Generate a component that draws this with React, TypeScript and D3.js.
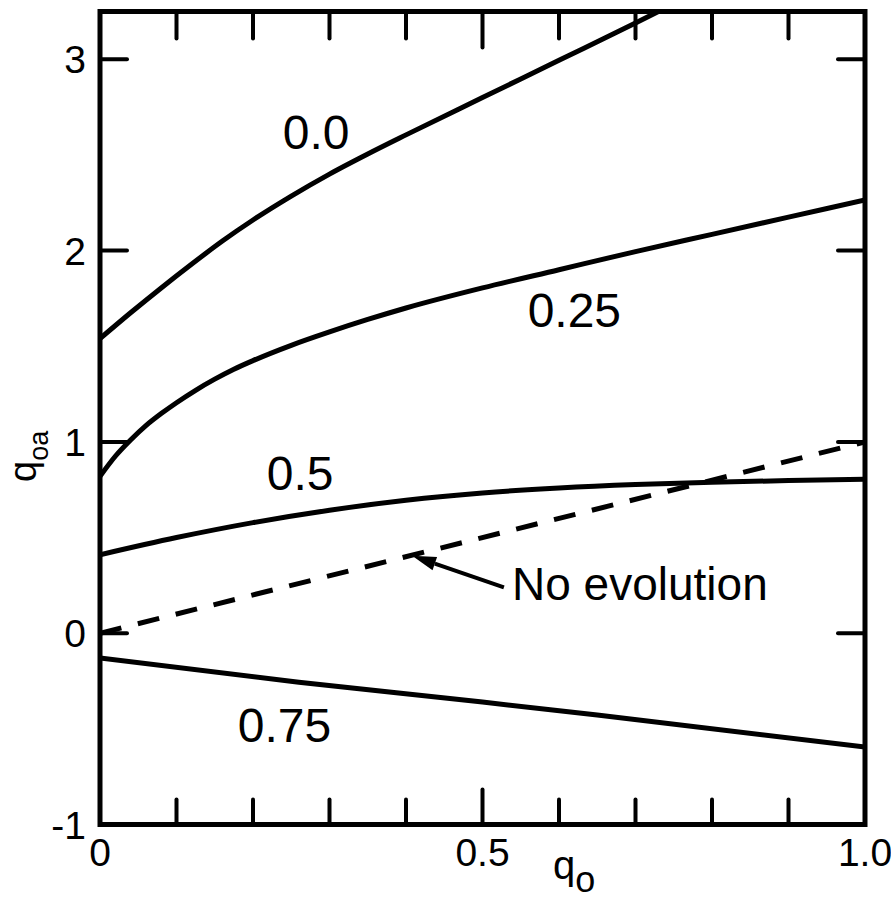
import React from "react";
import * as d3 from "d3";

const W = 891;
const H = 899;

// x-axis ticks
const xMinorTicks = [0.1, 0.2, 0.3, 0.4, 0.6, 0.7, 0.8, 0.9];
const xMajorTicks = [0.5];
const xTickLabels = [
  { v: 0, t: "0" },
  { v: 0.5, t: "0.5" },
  { v: 1.0, t: "1.0" },
];
const yTicks = [0, 1, 2, 3];
const yTickLabels = ["-1", "0", "1", "2", "3"];
const yTickValues = [-1, 0, 1, 2, 3];

// curves: label = parameter value
const c00_q0 = [0, 0.04, 0.08, 0.12, 0.16, 0.2, 0.25, 0.3, 0.35, 0.4, 0.5, 0.6, 0.7, 0.76];
const c00_qoa = [1.54, 1.675, 1.805, 1.93, 2.05, 2.16, 2.285, 2.4, 2.505, 2.605, 2.8, 2.995, 3.19, 3.31];

const c025_q0 = [0, 0.02, 0.04, 0.06, 0.08, 0.1, 0.125, 0.15, 0.175, 0.2, 0.25, 0.3, 0.35, 0.4, 0.5, 0.6, 0.7, 0.8, 0.9, 1.0];
const c025_qoa = [0.82, 0.925, 1.01, 1.085, 1.148, 1.205, 1.27, 1.328, 1.38, 1.425, 1.505, 1.575, 1.64, 1.7, 1.805, 1.9, 1.995, 2.085, 2.175, 2.265];

const c05_q0 = [0, 0.1, 0.2, 0.3, 0.4, 0.5, 0.6, 0.7, 0.8, 0.9, 1.0];
const c05_qoa = [0.41, 0.5, 0.578, 0.643, 0.695, 0.733, 0.759, 0.777, 0.789, 0.798, 0.805];

const c075_q0 = [0, 0.26, 0.5, 0.65, 1.0];
const c075_qoa = [-0.13, -0.256, -0.36, -0.428, -0.595];

const noEvo_q0 = [0, 1];
const noEvo_qoa = [0, 1];

const curveLabels = [
  { t: "0.0", q0: 0.239, qoa: 2.53 },
  { t: "0.25", q0: 0.559, qoa: 1.603 },
  { t: "0.5", q0: 0.218, qoa: 0.75 },
  { t: "0.75", q0: 0.18, qoa: -0.57 },
];

const FONT = "'Liberation Sans', Arial, sans-serif";

export default function App() {
  const left = 100,
    right = 865,
    top = 11.5,
    bottom = 824.5;
  const x = d3.scaleLinear().domain([0, 1]).range([left, right]);
  const y = d3.scaleLinear().domain([-1, 3.25]).range([bottom, top]);

  const mk = (xs: number[], ys: number[]) =>
    d3
      .line<number>()
      .x((_, i) => x(xs[i]))
      .y((d) => y(d))
      .curve(d3.curveMonotoneX)(ys) as string;

  const solid = [
    mk(c00_q0, c00_qoa),
    mk(c025_q0, c025_qoa),
    mk(c05_q0, c05_qoa),
    mk(c075_q0, c075_qoa),
  ];
  const dashed = d3
    .line<number>()
    .x((_, i) => x(noEvo_q0[i]))
    .y((d) => y(d))(noEvo_qoa) as string;

  // arrow
  const tipX = x(0.408),
    tipY = y(0.405);
  const tailX = x(0.528),
    tailY = y(0.24);
  const ang = Math.atan2(tailY - tipY, tailX - tipX);
  const aL = 24,
    aW = 7;
  const bx = tipX + aL * Math.cos(ang),
    by = tipY + aL * Math.sin(ang);
  const p1 = [bx - aW * Math.sin(ang), by + aW * Math.cos(ang)];
  const p2 = [bx + aW * Math.sin(ang), by - aW * Math.cos(ang)];

  return (
    <svg
      width={W}
      height={H}
      style={{ position: "absolute", left: 0, top: 0, background: "#fff" }}
      fontFamily={FONT}
    >
      <defs>
        <clipPath id="plot">
          <rect x={left} y={top} width={right - left} height={bottom - top} />
        </clipPath>
      </defs>
      <rect width={W} height={H} fill="#fff" />

      {/* curves */}
      <g clipPath="url(#plot)" fill="none" stroke="#000" strokeLinecap="round">
        {solid.map((d, i) => (
          <path key={i} d={d} strokeWidth={5} />
        ))}
        <path d={dashed} strokeWidth={5} strokeDasharray="22 17" strokeLinecap="butt" />
      </g>

      {/* ticks */}
      <g stroke="#000" strokeWidth={4} strokeLinecap="round">
        {xMinorTicks.map((v) => (
          <g key={"xm" + v}>
            <line x1={x(v)} x2={x(v)} y1={bottom} y2={bottom - 25} />
            <line x1={x(v)} x2={x(v)} y1={top} y2={top + 27} />
          </g>
        ))}
        {xMajorTicks.map((v) => (
          <g key={"xM" + v}>
            <line x1={x(v)} x2={x(v)} y1={bottom} y2={bottom - 35} />
            <line x1={x(v)} x2={x(v)} y1={top} y2={top + 36} />
          </g>
        ))}
        {yTicks.map((v) => (
          <g key={"y" + v}>
            <line x1={left} x2={left + 27} y1={y(v)} y2={y(v)} />
            <line x1={right} x2={right - 27} y1={y(v)} y2={y(v)} />
          </g>
        ))}
      </g>

      {/* frame */}
      <rect
        x={left}
        y={top}
        width={right - left}
        height={bottom - top}
        fill="none"
        stroke="#000"
        strokeWidth={5}
      />

      {/* tick labels */}
      <g fontSize={39} fill="#000">
        {yTickValues.map((v, i) => (
          <text key={"yl" + v} x={86} y={y(v) + 14} textAnchor="end">
            {yTickLabels[i]}
          </text>
        ))}
        {xTickLabels.map((d) => (
          <text key={"xl" + d.v} x={x(d.v)} y={866} textAnchor="middle">
            {d.t}
          </text>
        ))}
      </g>

      {/* axis titles */}
      <text x={553} y={879} fontSize={40} fill="#000">
        q<tspan dy={13} fontSize={36}>o</tspan>
      </text>
      <text
        transform="translate(36,482) rotate(-90)"
        x={0}
        y={0}
        fontSize={38}
        fill="#000"
      >
        q<tspan dy={12} fontSize={27}>oa</tspan>
      </text>

      {/* curve labels */}
      <g fontSize={48} fill="#000">
        {curveLabels.map((l) => (
          <text key={l.t} x={x(l.q0)} y={y(l.qoa)}>
            {l.t}
          </text>
        ))}
      </g>

      {/* annotation */}
      <line x1={tailX} y1={tailY} x2={bx} y2={by} stroke="#000" strokeWidth={4} />
      <polygon
        points={`${tipX},${tipY} ${p1[0]},${p1[1]} ${p2[0]},${p2[1]}`}
        fill="#000"
      />
      <text x={512} y={600} fontSize={46} fill="#000">
        No evolution
      </text>
    </svg>
  );
}
